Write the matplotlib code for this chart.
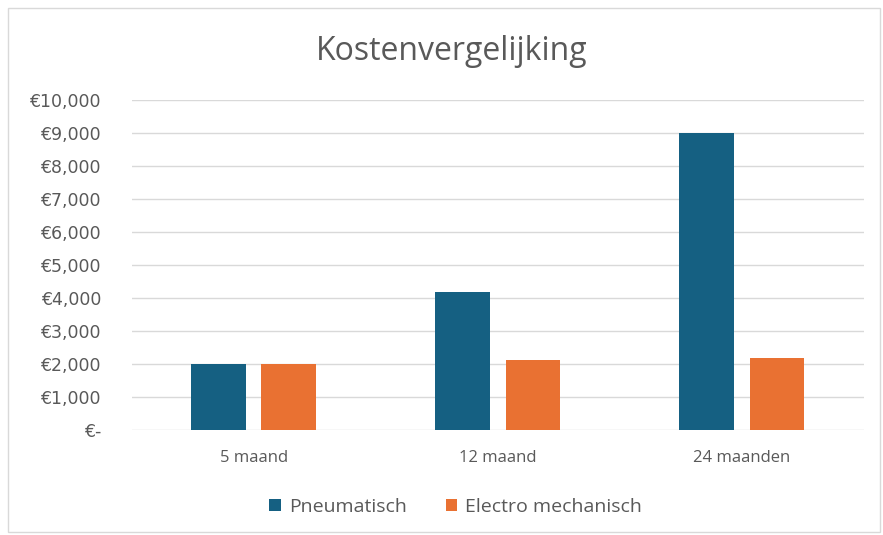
import matplotlib.pyplot as plt
from matplotlib.patches import Rectangle
from matplotlib.ticker import FuncFormatter, MultipleLocator
import numpy as np

categories = ["5 maand", "12 maand", "24 maanden"]
pneumatisch = [2000, 4200, 9000]
electro = [2000, 2130, 2180]
series_names = ["Pneumatisch", "Electro mechanisch"]
colors = ["#156082", "#E97132"]

plt.rcParams['font.family'] = ['Open Sans', 'DejaVu Sans']
TEXT = '#595959'

fig = plt.figure(figsize=(8.83, 5.35), dpi=100)
fig.patch.set_facecolor('white')
# outer chart border
fig.add_artist(Rectangle((8 / 883, 3 / 535), 872 / 883, 524 / 535, transform=fig.transFigure,
                         fill=False, edgecolor='#d9d9d9', linewidth=1.0))

ax = fig.add_axes([0.149, 0.196, 0.829, 0.617])
x = np.arange(len(categories))
w = 0.223
gap = 0.065
ax.bar(x - (w + gap) / 2, pneumatisch, width=w, color=colors[0], label=series_names[0], zorder=3)
ax.bar(x + (w + gap) / 2, electro, width=w, color=colors[1], label=series_names[1], zorder=3)

ax.set_xlim(-0.5, 2.5)
ax.set_ylim(0, 10000)
ax.yaxis.set_major_locator(MultipleLocator(1000))


def euro(v, pos):
    if v == 0:
        return "€-"
    return f"€{int(v):,}"


ax.yaxis.set_major_formatter(FuncFormatter(euro))
ax.grid(axis='y', color='#d9d9d9', linewidth=1.0, zorder=0)
for s in ax.spines.values():
    s.set_visible(False)
ax.tick_params(axis='both', length=0, colors=TEXT)
ax.tick_params(axis='y', pad=22, labelsize=12.5)
ax.tick_params(axis='x', pad=14, labelsize=12)
for lbl in ax.get_yticklabels():
    lbl.set_fontfamily(['DejaVu Sans'])
ax.set_xticks(x)
ax.set_xticklabels(categories)

fig.text(0.511, 1 - 60 / 535, "Kostenvergelijking", ha='center', va='baseline', fontsize=23,
         color=TEXT)

leg = fig.legend(loc='center', bbox_to_anchor=(0.516, 0.052), ncol=2, frameon=False,
                 fontsize=14, handlelength=0.6, handleheight=0.6, handletextpad=0.4,
                 columnspacing=2.0)
for t in leg.get_texts():
    t.set_color(TEXT)

fig.savefig('out.png', dpi=100, facecolor='white')
